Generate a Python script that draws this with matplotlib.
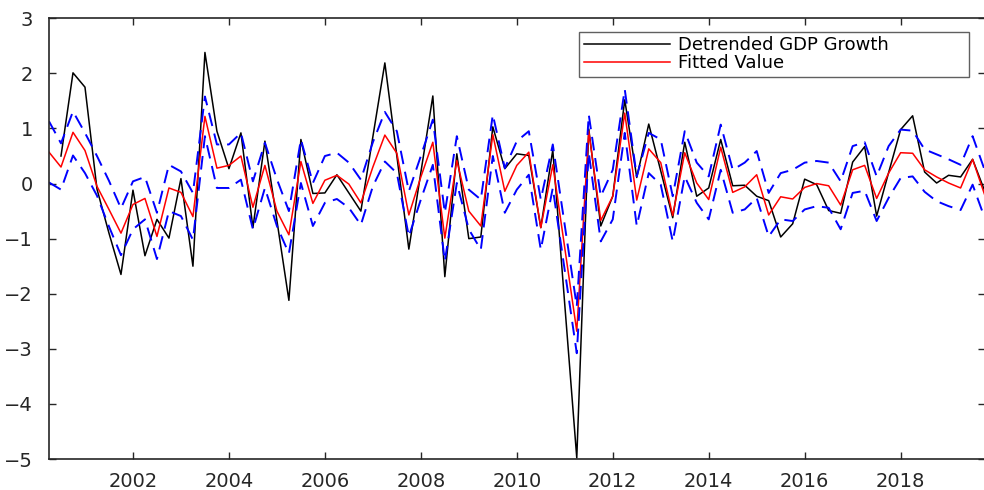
import matplotlib
matplotlib.use("Agg")
import matplotlib.pyplot as plt
import numpy as np

# quarterly dates, 2000Q2 .. 2019Q4
dates = np.arange(2000.25, 2020.0, 0.25)

# detrended GDP growth (first quarter missing)
gdp = [np.nan, 0.50, 2.01, 1.75, -0.10, -0.90, -1.65, -0.12, -1.31, -0.65,
       -0.99, 0.09, -1.50, 2.38, 0.95, 0.27, 0.92, -0.80, 0.77, -0.67,
       -2.12, 0.80, -0.18, -0.17, 0.16, -0.17, -0.50, 0.85, 2.19, 0.50,
       -1.19, 0.20, 1.59, -1.69, 0.54, -1.00, -0.97, 1.03, 0.27, 0.54,
       0.51, -0.80, 0.61, -2.20, -4.98, 0.99, -0.77, -0.23, 1.52, 0.11,
       1.08, 0.23, -0.62, 0.75, -0.23, -0.08, 0.80, -0.04, -0.03, -0.23,
       -0.31, -0.97, -0.73, 0.08, -0.02, -0.49, -0.54, 0.39, 0.67, -0.59,
       0.20, 0.98, 1.23, 0.21, 0.01, 0.15, 0.12, 0.44, -0.13]

fitted = [0.57, 0.30, 0.93, 0.60, -0.05, -0.47, -0.90, -0.38, -0.27, -0.96,
          -0.08, -0.16, -0.60, 1.22, 0.28, 0.33, 0.50, -0.43, 0.33, -0.50,
          -0.93, 0.40, -0.36, 0.06, 0.15, -0.01, -0.35, 0.30, 0.88, 0.55,
          -0.57, 0.12, 0.75, -0.99, 0.42, -0.50, -0.77, 0.89, -0.14, 0.33,
          0.57, -0.80, 0.34, -1.17, -2.68, 0.95, -0.67, -0.23, 1.28, -0.30,
          0.63, 0.38, -0.58, 0.56, 0.01, -0.29, 0.66, -0.16, -0.06, 0.16,
          -0.57, -0.24, -0.28, -0.07, 0.00, -0.04, -0.39, 0.25, 0.33, -0.27,
          0.19, 0.56, 0.55, 0.25, 0.12, 0.01, -0.08, 0.44, -0.20]

upper = [1.13, 0.73, 1.31, 0.92, 0.50, 0.05, -0.45, 0.04, 0.12, -0.53,
         0.34, 0.22, -0.17, 1.58, 0.71, 0.71, 0.92, 0.04, 0.74, 0.08,
         -0.50, 0.80, 0.01, 0.50, 0.56, 0.38, 0.07, 0.75, 1.30, 0.95,
         -0.14, 0.50, 1.16, -0.53, 0.86, -0.11, -0.29, 1.25, 0.28, 0.77,
         0.95, -0.29, 0.71, -0.76, -2.23, 1.25, -0.23, 0.25, 1.71, 0.13,
         0.92, 0.80, -0.23, 0.95, 0.38, 0.13, 1.07, 0.25, 0.38, 0.59,
         -0.17, 0.19, 0.25, 0.38, 0.41, 0.38, 0.04, 0.68, 0.75, 0.13,
         0.68, 0.98, 0.96, 0.62, 0.53, 0.44, 0.34, 0.86, 0.25]

lower = [0.02, -0.11, 0.51, 0.19, -0.22, -0.78, -1.30, -0.83, -0.65, -1.37,
         -0.50, -0.59, -1.02, 0.86, -0.08, -0.08, 0.07, -0.83, -0.08, -0.77,
         -1.27, 0.01, -0.77, -0.35, -0.28, -0.44, -0.75, -0.05, 0.40, 0.19,
         -0.96, -0.29, 0.34, -1.41, 0.01, -0.83, -1.20, 0.50, -0.53, -0.11,
         0.16, -1.20, -0.08, -1.58, -3.08, 0.56, -1.05, -0.65, 0.92, -0.77,
         0.19, -0.02, -1.05, 0.13, -0.35, -0.65, 0.25, -0.53, -0.47, -0.26,
         -0.96, -0.65, -0.68, -0.47, -0.41, -0.44, -0.83, -0.17, -0.13, -0.68,
         -0.26, 0.10, 0.13, -0.15, -0.32, -0.41, -0.48, -0.02, -0.62]

xticks = [2002, 2004, 2006, 2008, 2010, 2012, 2014, 2016, 2018]
yticks = [-5, -4, -3, -2, -1, 0, 1, 2, 3]

plt.rcParams['font.family'] = ['DejaVu Sans']

fig = plt.figure(figsize=(9.84, 4.9), dpi=100)
ax = fig.add_axes([49/984, 31/490, 935.6/984, 440.7/490])

dash = (0, (7, 4))
ax.plot(dates, gdp, color='black', lw=1.1, label='Detrended GDP Growth')
ax.plot(dates, fitted, color='red', lw=1.1, label='Fitted Value')
ax.plot(dates, upper, color='blue', lw=1.4, linestyle=dash)
ax.plot(dates, lower, color='blue', lw=1.4, linestyle=dash)

ax.set_xlim(dates[0], dates[-1])
ax.set_ylim(-5, 3)
ax.set_xticks(xticks)
ax.set_yticks(yticks)

ax.tick_params(axis='both', direction='in', length=5, width=1.0,
               color='#262626', labelcolor='#262626', labelsize=14,
               top=True, right=True)
ax.tick_params(axis='y', pad=11.5)
ax.tick_params(axis='x', pad=9)
for sp in ax.spines.values():
    sp.set_linewidth(1.2)
    sp.set_color('#262626')

leg = ax.legend(loc='upper left', bbox_to_anchor=(0.5665, 0.862, 0.4168, 0.107),
                mode='expand', borderaxespad=0, fontsize=13, fancybox=False,
                framealpha=1, edgecolor='#606060', handlelength=4.8,
                handletextpad=0.45, labelspacing=0.0, borderpad=0.25)
leg.get_frame().set_linewidth(1.0)

fig.savefig('out.png', dpi=100)
